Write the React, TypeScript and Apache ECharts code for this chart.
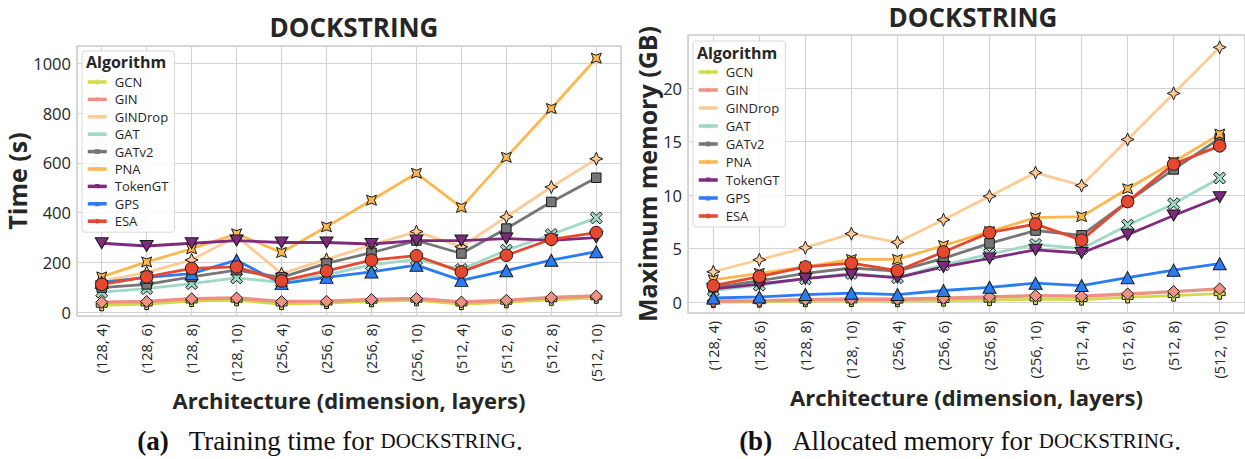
import React, { useEffect, useRef } from "react";
import * as echarts from "echarts";

const categories = ["(128, 4)", "(128, 6)", "(128, 8)", "(128, 10)", "(256, 4)", "(256, 6)", "(256, 8)", "(256, 10)", "(512, 4)", "(512, 6)", "(512, 8)", "(512, 10)"];
const algorithms = ["GCN", "GIN", "GINDrop", "GAT", "GATv2", "PNA", "TokenGT", "GPS", "ESA"];

// Training time (s)
const timeGCN = [28, 33, 45, 48, 33, 37, 44, 48, 33, 40, 50, 58];
const timeGIN = [40, 43, 54, 57, 43, 44, 51, 55, 41, 48, 59, 65];
const timeGINDrop = [125, 160, 210, 305, 155, 212, 270, 324, 263, 383, 503, 616];
const timeGAT = [81, 95, 115, 138, 120, 150, 190, 212, 172, 249, 312, 379];
const timeGATv2 = [99, 112, 142, 169, 140, 196, 239, 288, 236, 336, 443, 540];
const timePNA = [142, 202, 255, 315, 240, 343, 450, 558, 421, 622, 818, 1020];
const timeTokenGT = [277, 266, 277, 288, 280, 280, 274, 288, 288, 296, 289, 300];
const timeGPS = [120, 140, 155, 209, 115, 140, 162, 189, 128, 167, 209, 243];
const timeESA = [112, 142, 176, 182, 126, 166, 209, 227, 162, 229, 293, 320];

// Maximum memory (GB)
const memGCN = [0.02, 0.05, 0.1, 0.12, 0.1, 0.15, 0.2, 0.3, 0.25, 0.45, 0.62, 0.8];
const memGIN = [0.1, 0.15, 0.25, 0.3, 0.28, 0.37, 0.5, 0.62, 0.56, 0.78, 1.0, 1.25];
const memGINDrop = [2.85, 3.97, 5.1, 6.4, 5.6, 7.7, 9.9, 12.1, 10.9, 15.2, 19.5, 23.8];
const memGAT = [1.1, 1.6, 2.2, 2.7, 2.3, 3.5, 4.5, 5.4, 5.0, 7.2, 9.2, 11.6];
const memGATv2 = [1.4, 2.0, 2.7, 3.2, 2.9, 4.1, 5.5, 6.7, 6.25, 9.4, 12.4, 15.3];
const memPNA = [2.1, 2.7, 3.3, 4.0, 4.0, 5.3, 6.6, 7.9, 8.0, 10.6, 13.1, 15.7];
const memTokenGT = [1.25, 1.7, 2.2, 2.6, 2.3, 3.3, 4.1, 4.9, 4.6, 6.3, 8.1, 9.8];
const memGPS = [0.4, 0.5, 0.72, 0.85, 0.72, 1.1, 1.4, 1.78, 1.56, 2.3, 3.0, 3.6];
const memESA = [1.55, 2.4, 3.3, 3.65, 2.95, 4.7, 6.5, 7.3, 5.8, 9.4, 12.9, 14.6];

const timeData: Record<string, number[]> = {
  GCN: timeGCN, GIN: timeGIN, GINDrop: timeGINDrop, GAT: timeGAT, GATv2: timeGATv2,
  PNA: timePNA, TokenGT: timeTokenGT, GPS: timeGPS, ESA: timeESA,
};
const memData: Record<string, number[]> = {
  GCN: memGCN, GIN: memGIN, GINDrop: memGINDrop, GAT: memGAT, GATv2: memGATv2,
  PNA: memPNA, TokenGT: memTokenGT, GPS: memGPS, ESA: memESA,
};

const colors: Record<string, string> = {
  GCN: "#d0db45", GIN: "#ee9082", GINDrop: "#ffcb94", GAT: "#9ed9c5", GATv2: "#767676",
  PNA: "#fdb74f", TokenGT: "#7e2a7e", GPS: "#2b7bf4", ESA: "#e5472f",
};

const symbols: Record<string, any> = {
  GCN: { symbol: "path://M-3.5,-10L3.5,-10L3.5,-3.5L10,-3.5L10,3.5L3.5,3.5L3.5,10L-3.5,10L-3.5,3.5L-10,3.5L-10,-3.5L-3.5,-3.5Z", size: 11, rotate: 0 },
  GIN: { symbol: "diamond", size: 12, rotate: 0 },
  GINDrop: { symbol: "path://M0,-10L3,-3L10,0L3,3L0,10L-3,3L-10,0L-3,-3Z", size: 13, rotate: 0 },
  GAT: { symbol: "path://M-10,-6L-6,-10L0,-4L6,-10L10,-6L4,0L10,6L6,10L0,4L-6,10L-10,6L-4,0Z", size: 12, rotate: 0 },
  GATv2: { symbol: "rect", size: 9.5, rotate: 0 },
  PNA: { symbol: "path://M-10,-10L0,-6L10,-10L6,0L10,10L0,6L-10,10L-6,0Z", size: 10, rotate: 0 },
  TokenGT: { symbol: "triangle", size: [13, 11], rotate: 180 },
  GPS: { symbol: "triangle", size: [13, 12], rotate: 0 },
  ESA: { symbol: "circle", size: 12.5, rotate: 0 },
};

const SANS = "'Open Sans', 'Noto Sans', sans-serif";
const SERIF = "'Liberation Serif', 'DejaVu Serif', serif";
const TXT = "#262626";

function makeSeries(dataMap: Record<string, number[]>, idx: number) {
  return algorithms.map((name) => ({
    name,
    type: "line",
    xAxisIndex: idx,
    yAxisIndex: idx,
    data: dataMap[name].map((v, i) => [i, v]),
    symbol: symbols[name].symbol,
    symbolSize: symbols[name].size,
    symbolRotate: symbols[name].rotate,
    showAllSymbol: true,
    lineStyle: { width: name === "GIN" ? 3.4 : 2.8, color: colors[name] },
    itemStyle: { color: colors[name], borderColor: "#1a1a1a", borderWidth: 1 },
    emphasis: { disabled: true },
    z: 3,
  }));
}

function xAxis(gridIndex: number, gap: number) {
  return {
    type: "value",
    gridIndex,
    min: -0.55,
    max: 11.55,
    minInterval: 1,
    maxInterval: 1,
    name: "Architecture (dimension, layers)",
    nameLocation: "middle",
    nameGap: gap,
    nameTextStyle: { fontFamily: SANS, fontWeight: "bold", fontSize: 22, color: TXT },
    axisLine: { show: false },
    axisTick: { show: false },
    axisLabel: {
      rotate: 90,
      margin: 8,
      fontFamily: SANS,
      fontSize: 14.5,
      color: TXT,
      showMinLabel: false,
      showMaxLabel: false,
      formatter: (v: number) => (Number.isInteger(v) && v >= 0 && v < categories.length ? categories[v] : ""),
    },
    splitLine: { show: true, lineStyle: { color: "#d3d3d3", width: 1.2 } },
  };
}

function yAxis(gridIndex: number, min: number, max: number, step: number, name: string, gap: number) {
  return {
    type: "value",
    gridIndex,
    min,
    max,
    minInterval: step,
    maxInterval: step,
    name,
    nameLocation: "middle",
    nameGap: gap,
    nameTextStyle: { fontFamily: SANS, fontWeight: "bold", fontSize: 25, color: TXT },
    axisLine: { show: false },
    axisTick: { show: false },
    axisLabel: {
      margin: 6,
      fontFamily: SANS,
      fontSize: 16.5,
      color: TXT,
      showMinLabel: false,
      showMaxLabel: false,
      formatter: (v: number) => String(v),
    },
    splitLine: { show: true, lineStyle: { color: "#d3d3d3", width: 1.2 } },
  };
}

function legend(left: number, top: number, gap: number) {
  return {
    orient: "vertical",
    left,
    top,
    padding: [24, 6, 4, 4],
    itemWidth: 19,
    itemHeight: 6,
    itemGap: gap,
    backgroundColor: "rgba(255,255,255,0.85)",
    borderColor: "#d9d9d9",
    borderWidth: 1,
    borderRadius: 3,
    z: 10,
    itemStyle: { borderWidth: 0 },
    lineStyle: { width: 3.5 },
    textStyle: { fontFamily: SANS, fontSize: 13, color: TXT, lineHeight: 14, padding: [0, 0, 0, 3] },
    data: algorithms,
  };
}

function caption(label: string, body: string, x: number) {
  return {
    type: "text", x, y: 441, z: 100,
    style: {
      text: `{b|${label}}{g| }{r|${body} }{s|DOCKSTRING}{r|.}`,
      align: "center", verticalAlign: "middle", fill: "#111",
      rich: {
        b: { fontFamily: SERIF, fontWeight: "bold", fontSize: 27, fill: "#111" },
        g: { fontFamily: SERIF, fontSize: 27, width: 20, fill: "#111" },
        r: { fontFamily: SERIF, fontSize: 27, fill: "#111" },
        s: { fontFamily: SERIF, fontSize: 21, fill: "#111" },
      },
    },
  };
}

export default function App() {
  const ref = useRef<HTMLDivElement>(null);
  useEffect(() => {
    if (!ref.current) return;
    const chart = echarts.init(ref.current, undefined, { renderer: "svg" });
    const option: any = {
      animation: false,
      backgroundColor: "#ffffff",
      title: [
        { text: "DOCKSTRING", left: 349, top: 9, textAlign: "center", textStyle: { fontFamily: SANS, fontWeight: "bold", fontSize: 26, color: TXT } },
        { text: "DOCKSTRING", left: 968, top: -1, textAlign: "center", textStyle: { fontFamily: SANS, fontWeight: "bold", fontSize: 26, color: TXT } },
      ],
      grid: [
        { left: 77, right: 624, top: 46, bottom: 143, show: true, borderColor: "#cccccc", borderWidth: 1.5, backgroundColor: "transparent" },
        { left: 688, right: -4, top: 35, bottom: 146, show: true, borderColor: "#cccccc", borderWidth: 1.5, backgroundColor: "transparent" },
      ],
      xAxis: [xAxis(0, 63), xAxis(1, 67)],
      yAxis: [
        yAxis(0, -15, 1069, 200, "Time (s)", 41),
        yAxis(1, -1, 24.95, 5, "Maximum memory (GB)", 27),
      ],
      legend: [legend(82, 51, 3.4), legend(693, 41, 4)],
      series: [...makeSeries(timeData, 0), ...makeSeries(memData, 1)],
      graphic: [
        { type: "text", x: 86, y: 62, z: 100, style: { text: "Algorithm", fontFamily: SANS, fontWeight: "bold", fontSize: 16, fill: TXT, verticalAlign: "middle" } },
        { type: "text", x: 697, y: 53, z: 100, style: { text: "Algorithm", fontFamily: SANS, fontWeight: "bold", fontSize: 16, fill: TXT, verticalAlign: "middle" } },
        caption("(a)", "Training time for", 330),
        caption("(b)", "Allocated memory for", 960),
      ],
    };
    chart.setOption(option);
    return () => chart.dispose();
  }, []);
  return <div ref={ref} style={{ position: "absolute", left: 0, top: 0, width: 1245, height: 459 }} />;
}
